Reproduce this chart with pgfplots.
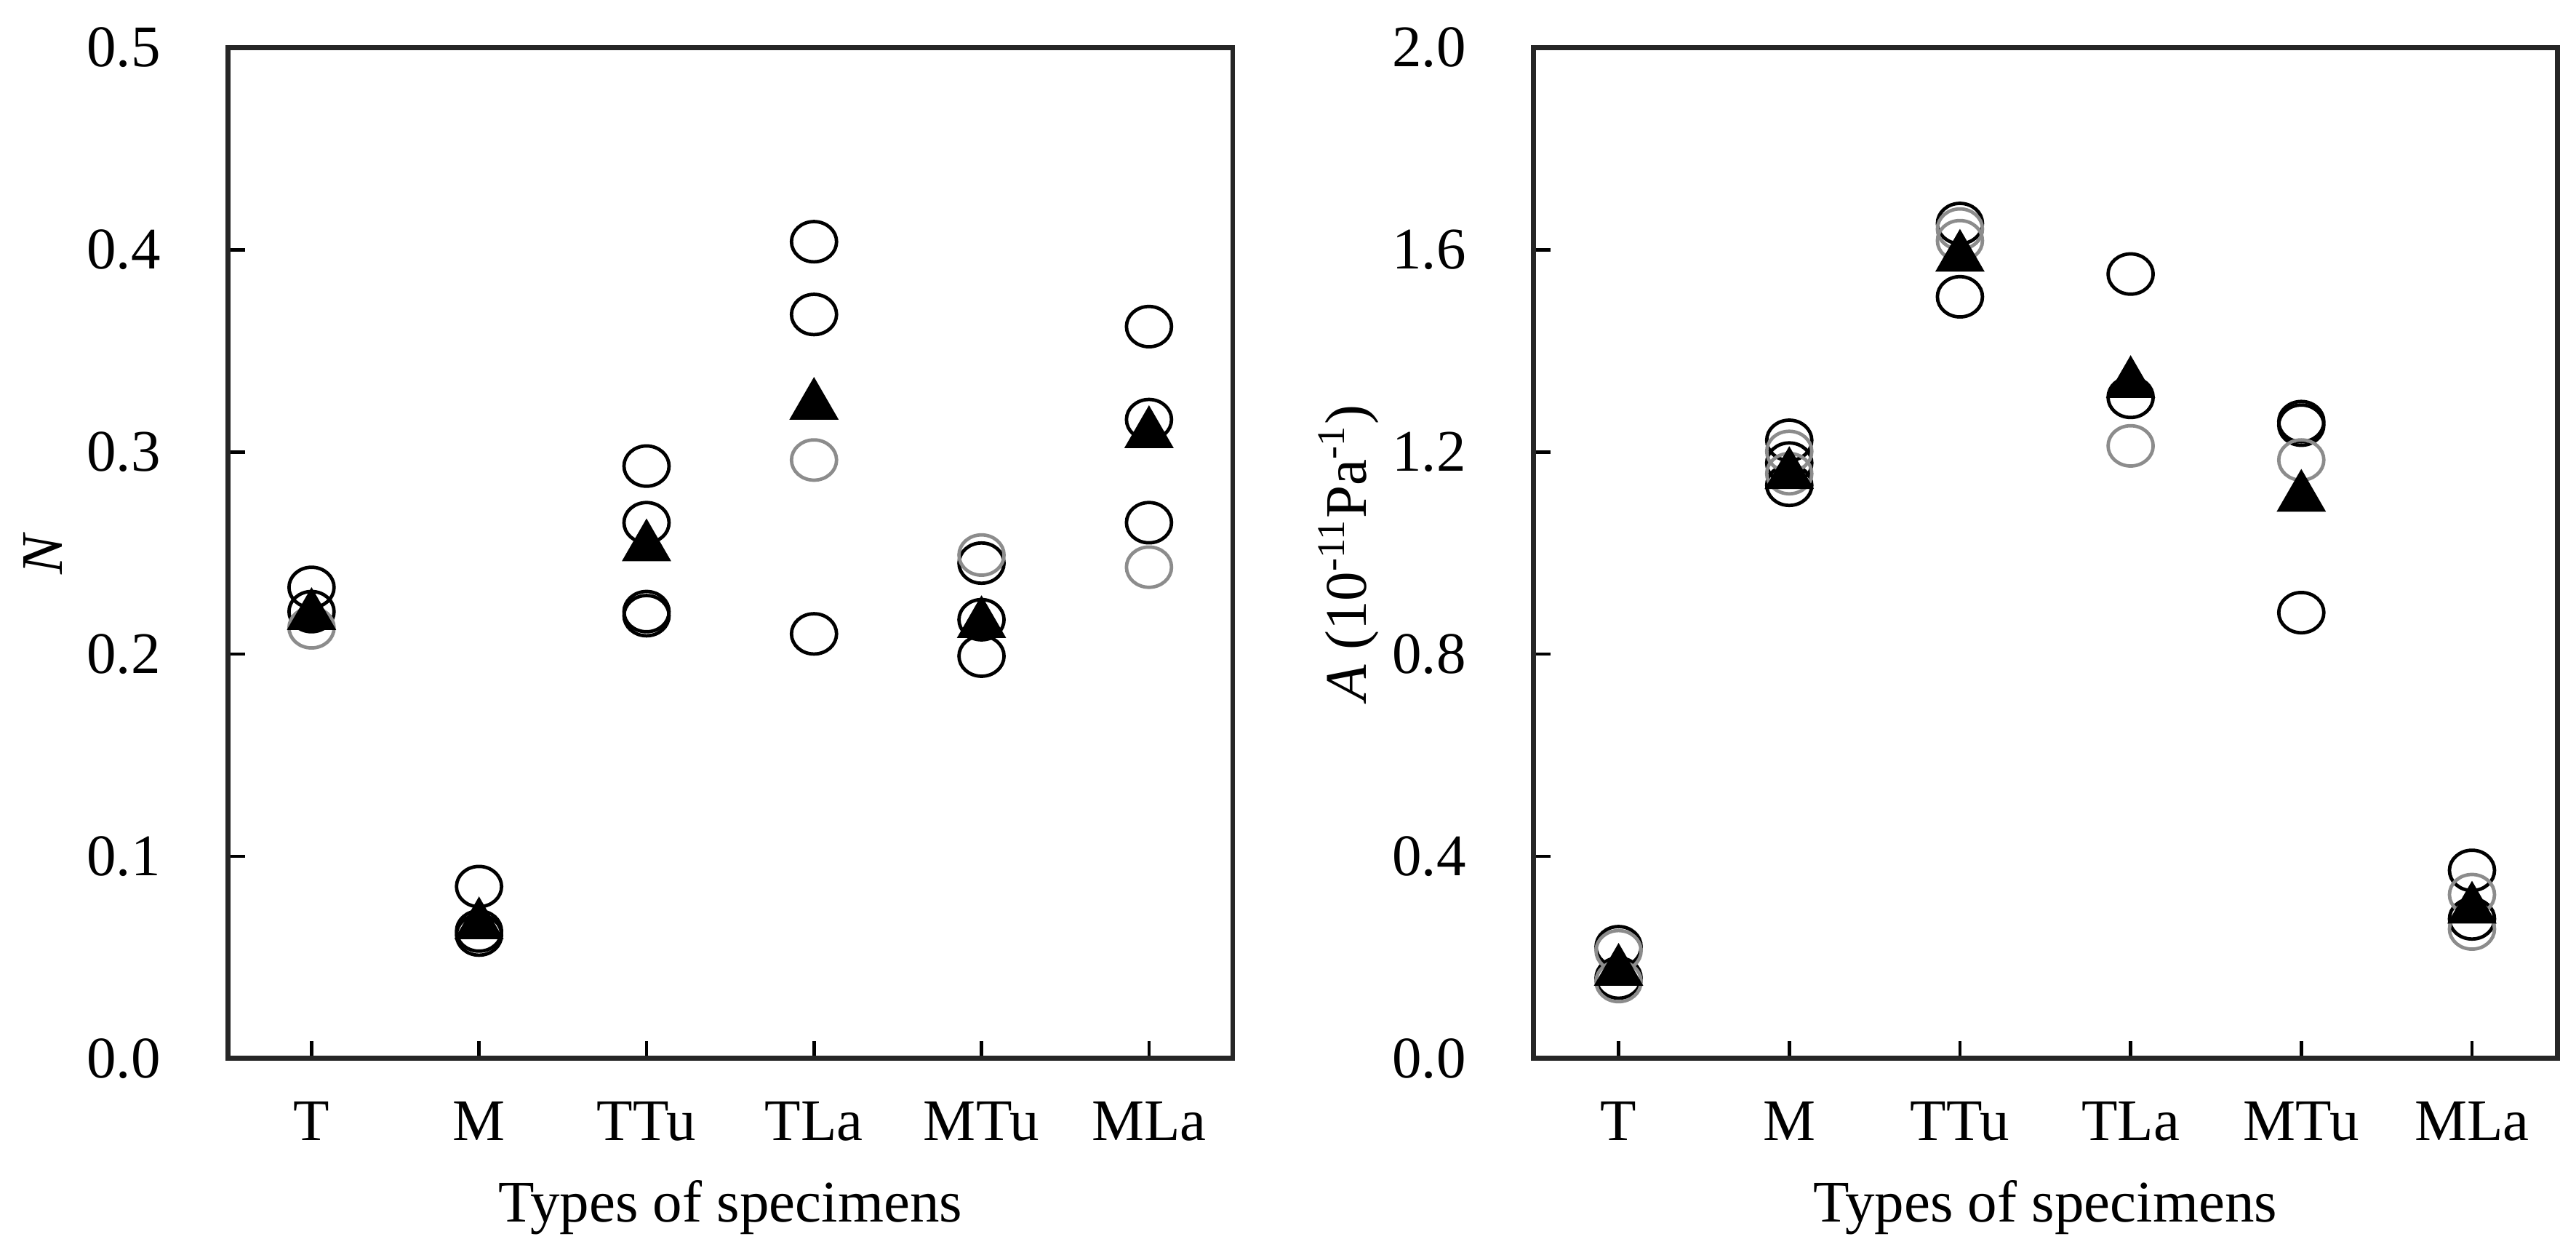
\documentclass[border=0pt]{standalone}
\usepackage{fontspec}
\setmainfont{Liberation Serif}
\usepackage{pgfplots}
\pgfplotsset{compat=1.18}
\begin{document}
\fontsize{12}{14}\selectfont
\begin{tikzpicture}
\pgfplotsset{
 mystyle/.style={
  scale only axis, height=205.8pt,
  xmin=0.5, xmax=6.5, xtick={1,2,3,4,5,6}, xticklabels={T,M,TTu,TLa,MTu,MLa},
  tick align=inside, xtick pos=bottom, ytick pos=left,
  axis line style={line width=1pt, black!85},
  every tick/.style={black, line width=0.7pt},
  major tick length=3.5pt,
  tick label style={font=\fontsize{12}{14}\selectfont},
  label style={font=\fontsize{12}{14}\selectfont},
  yticklabel style={xshift=-9.5pt, /pgf/number format/fixed, /pgf/number format/fixed zerofill, /pgf/number format/precision=1},
  /pgf/number format/assume math mode=true,
  xticklabel style={yshift=-4.6pt},
  xlabel={Types of specimens},
  xlabel style={at={(axis description cs:0.5,0)}, anchor=north, yshift=-20.7pt},
  clip=false,
 },
 circ/.style={only marks, mark=o, mark size=4.1pt, mark options={xscale=1.12, line width=0.7pt, draw=black}},
 gcirc/.style={only marks, mark=o, mark size=4.1pt, mark options={xscale=1.12, line width=0.7pt, draw=black!45}},
 tri/.style={only marks, mark=triangle*, mark size=5.4pt, mark options={fill=black, draw=black, line width=0.4pt}},
}
\begin{axis}[mystyle, at={(0,0)}, anchor=south west, width=204.7pt,
  ymin=0, ymax=0.5, ytick={0,0.1,0.2,0.3,0.4,0.5},
  ylabel={\textit{N}},
  ylabel style={at={(axis description cs:-0.1837,0.5)}, anchor=center}]
\addplot[circ] coordinates {(1,0.233) (1,0.221) (2,0.085) (2,0.063) (2,0.061)
 (3,0.293) (3,0.265) (3,0.221) (3,0.219) (4,0.404) (4,0.368) (4,0.210)
 (5,0.245) (5,0.217) (5,0.199) (6,0.362) (6,0.316) (6,0.265)};
\addplot[gcirc] coordinates {(1,0.213) (4,0.296) (5,0.249) (6,0.243)};
\addplot[tri] coordinates {(1,0.219) (2,0.066) (3,0.253) (4,0.323) (5,0.215) (6,0.309)};
\end{axis}
\begin{axis}[mystyle, at={(265.9pt,0)}, anchor=south west, width=208.6pt,
  ymin=0, ymax=2, ytick={0,0.4,0.8,1.2,1.6,2.0},
  ylabel={\textit{A} (10\textsuperscript{-11}Pa\textsuperscript{-1})},
  ylabel style={at={(axis description cs:-0.1803,0.5)}, anchor=center}]
\addplot[circ] coordinates {(1,0.221) (1,0.159) (2,1.223) (2,1.178) (2,1.134)
 (3,1.652) (3,1.507) (4,1.552) (4,1.308) (5,1.260) (5,1.253) (5,0.882)
 (6,0.372) (6,0.276)};
\addplot[gcirc] coordinates {(1,0.213) (1,0.152) (2,1.201) (2,1.157) (3,1.641) (3,1.618)
 (4,1.212) (5,1.184) (6,0.324) (6,0.256)};
\addplot[tri] coordinates {(1,0.172) (2,1.155) (3,1.585) (4,1.335) (5,1.110) (6,0.295)};
\end{axis}
\pgfresetboundingbox
\path[use as bounding box] (-46.4pt,-38.4pt) rectangle (478.3pt,215.5pt);
\end{tikzpicture}
\end{document}
